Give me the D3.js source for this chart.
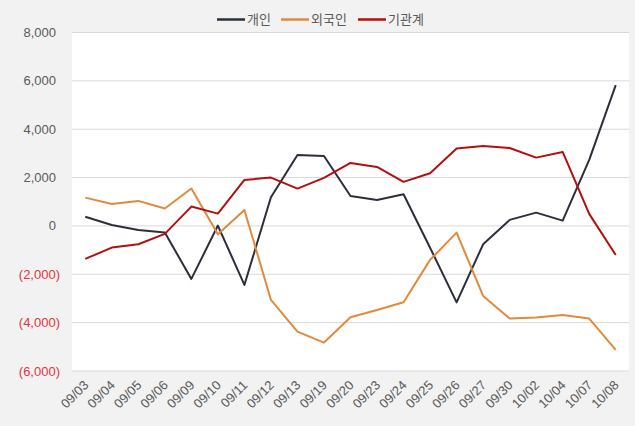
<!DOCTYPE html>
<html><head><meta charset="utf-8">
<script src="https://cdn.jsdelivr.net/npm/d3@7"></script>
<style>
html,body{margin:0;padding:0;background:#f2f2f2;}
svg{display:block;font-family:"Liberation Sans","Noto Sans CJK KR",sans-serif;}
</style></head><body>
<svg id="c" width="635" height="426"></svg>
<script>
const categories = ["09/03","09/04","09/05","09/06","09/09","09/10","09/11","09/12","09/13","09/19","09/20","09/23","09/24","09/25","09/26","09/27","09/30","10/02","10/04","10/07","10/08"];
const seriesNames = ["개인","외국인","기관계"];
const individual = [380,40,-165,-275,-2190,15,-2440,1185,2935,2895,1240,1075,1310,-900,-3160,-760,250,550,220,2730,5820];
const foreign = [1170,910,1035,720,1545,-345,660,-3060,-4370,-4825,-3780,-3475,-3160,-1405,-275,-2895,-3830,-3790,-3680,-3830,-5130];
const institution = [-1365,-895,-760,-330,800,510,1900,2000,1545,1985,2605,2440,1820,2180,3200,3310,3225,2825,3060,500,-1200];
const yTicks = [8000,6000,4000,2000,0,-2000,-4000,-6000];
const colors = ["#2a2f3b","#e08a3c","#b30f0f"];

const svg = d3.select("#c");
const L = 72, R = 629, T = 32.5, B = 371;
svg.append("rect").attr("x",L).attr("y",T).attr("width",R-L).attr("height",B-T).attr("fill","#ffffff");

const x = d3.scalePoint().domain(categories).range([L,R]).padding(0.5);
const y = d3.scaleLinear().domain([-6000,8000]).range([B,T]);

const fmt = d3.format(",");
svg.append("g").selectAll("line").data(yTicks).join("line")
  .attr("x1",L).attr("x2",R).attr("y1",d=>y(d)).attr("y2",d=>y(d))
  .attr("stroke","#d9d9d9").attr("stroke-width",1);
svg.append("g").selectAll("text").data(yTicks).join("text")
  .attr("x",d=>d<0?60:56).attr("y",d=>y(d)).attr("dy","0.35em")
  .attr("text-anchor","end").attr("font-size",13)
  .attr("fill",d=>d<0?"#e0353a":"#595959")
  .text(d=>d<0?"("+fmt(-d)+")":fmt(d));
svg.append("g").selectAll("text").data(categories).join("text")
  .attr("transform",d=>`translate(${x(d)+4},${386}) rotate(-45)`)
  .attr("text-anchor","end").attr("font-size",13).attr("fill","#595959")
  .text(d=>d);

const all = [individual, foreign, institution];
const line = d3.line().x((d,i)=>x(categories[i])).y(d=>y(d));
all.forEach((s,k)=>{
  svg.append("path").datum(s).attr("d",line).attr("fill","none")
    .attr("stroke",colors[k]).attr("stroke-width",2).attr("stroke-linejoin","round");
});

const legX = [217,281,358];
seriesNames.forEach((n,k)=>{
  const g = svg.append("g");
  g.append("line").attr("x1",legX[k]).attr("x2",legX[k]+28).attr("y1",19.5).attr("y2",19.5)
    .attr("stroke",colors[k]).attr("stroke-width",2.5);
  g.append("text").attr("x",legX[k]+30).attr("y",19.5).attr("dy","0.35em")
    .attr("font-size",13).attr("fill","#595959")
    .attr("font-family","'Noto Sans CJK KR',sans-serif").text(n);
});
</script></body></html>
